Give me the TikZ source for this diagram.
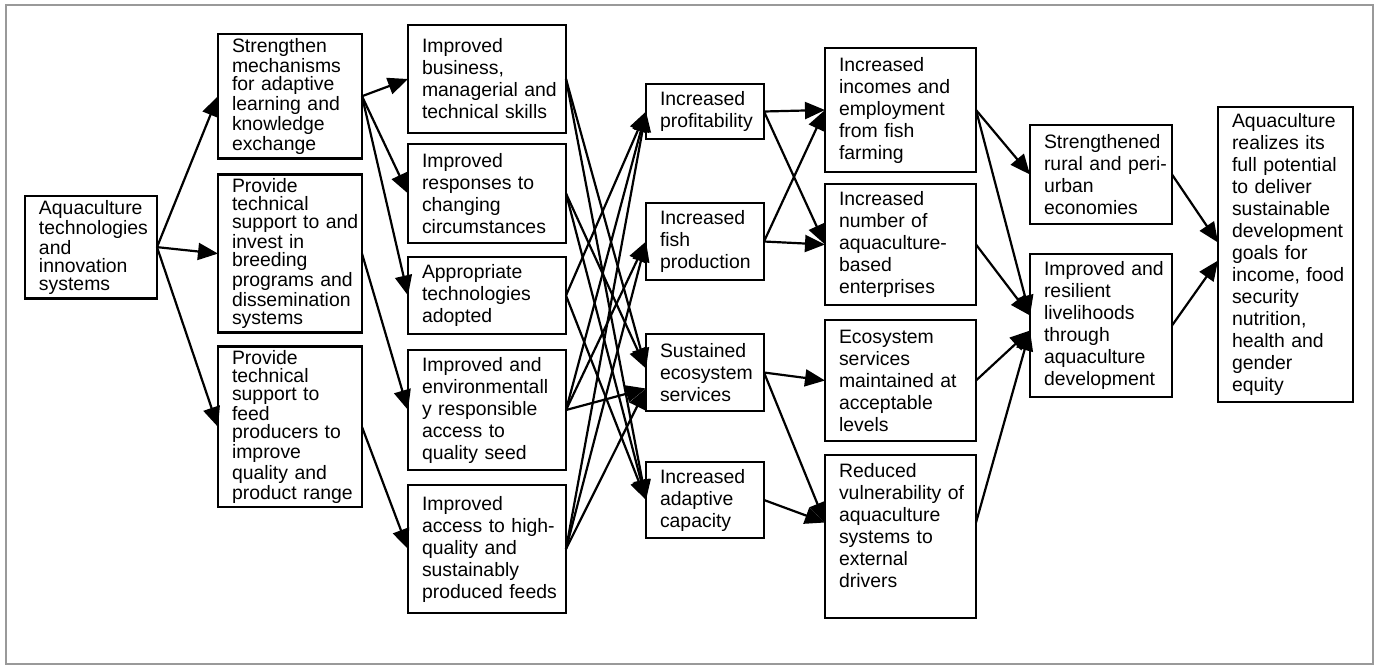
\documentclass[tikz,border=0pt]{standalone}
\usepackage{fontspec}
\setmainfont{Liberation Sans}
\usetikzlibrary{arrows.meta,positioning}
\hyphenpenalty=10000
\exhyphenpenalty=10000

\begin{document}
\begin{tikzpicture}[x=0.5pt,y=-0.5pt,
        box/.style={draw,rectangle,line width=1.3pt,outer sep=0pt,align=left,
            inner xsep=7pt,inner ysep=2pt,font=\fontsize{9.7}{11}\selectfont},
        tight/.style={font=\fontsize{9.7}{9}\selectfont},
        cola/.style={box,tight,text width=52pt},
        colb/.style={box,tight,text width=58pt},
        colc/.style={box,text width=65pt},
        cold/.style={box,text width=45pt},
        cole/.style={box,text width=61.5pt},
        colf/.style={box,text width=57pt},
        colg/.style={box,text width=53.5pt},
        conn/.style={line width=1.1pt,-{Triangle[length=10pt,width=8.5pt]}}]

        \useasboundingbox (0,0) rectangle (1379,670);
        \draw[gray!80,line width=0.8pt] (6,5) rectangle (1373,664);

        % first column
        \node[cola,minimum height=50.5pt,anchor=north west] (a) at (25,196) {Aquaculture\\technologies\\and\\innovation\\systems};

        % activities
        \node[colb,minimum height=59pt,anchor=north west] (b1) at (218,34) {Strengthen\\mechanisms\\for~adaptive\\learning~and\\knowledge\\exchange};
        \node[colb,minimum height=77pt,below=8pt of b1] (b2) {Provide\\technical\\support~to~and\\invest~in\\breeding\\programs~and\\dissemination\\systems};
        \node[colb,minimum height=77.5pt,below=7pt of b2] (b3) {Provide\\technical\\support~to\\feed\\producers~to\\improve\\quality~and\\product~range};

        % outputs
        \node[colc,minimum height=54pt,anchor=north west] (c1) at (408,25) {Improved\\business,\\managerial~and\\technical~skills};
        \node[colc,minimum height=49.5pt,below=5.5pt of c1] (c2) {Improved\\responses~to\\changing\\circumstances};
        \node[colc,minimum height=38.5pt,below=7pt of c2] (c3) {Appropriate\\technologies\\adopted};
        \node[colc,minimum height=60pt,below=8pt of c3] (c4) {Improved~and\\environmentall\\y~responsible\\access~to\\quality~seed};
        \node[colc,minimum height=64pt,below=7.5pt of c4] (c5) {Improved\\access~to~high-\\quality~and\\sustainably\\produced~feeds};

        % outcomes
        \node[cold,minimum height=27.5pt,anchor=north west] (d1) at (646,84) {Increased\\profitability};
        \node[cold,minimum height=38.5pt,below=32pt of d1] (d2) {Increased\\fish\\production};
        \node[cold,minimum height=38.5pt,below=27pt of d2] (d3) {Sustained\\ecosystem\\services};
        \node[cold,minimum height=38pt,below=25.5pt of d3] (d4) {Increased\\adaptive\\capacity};

        \node[cole,minimum height=62pt,anchor=north west] (e1) at (825,48) {Increased\\incomes~and\\employment\\from~fish\\farming};
        \node[cole,minimum height=60.5pt,below=6pt of e1] (e2) {Increased\\number~of\\aquaculture-\\based\\enterprises};
        \node[cole,minimum height=60.5pt,below=7.5pt of e2] (e3) {Ecosystem\\services\\maintained~at\\acceptable\\levels};
        \node[cole,minimum height=81.5pt,below=7pt of e3] (e4) {Reduced\\vulnerability~of\\aquaculture\\systems~to\\external\\drivers\\\mbox{}};

        % impacts
        \node[colf,minimum height=49.5pt,anchor=north west] (f1) at (1030,125) {Strengthened\\rural~and~peri-\\urban\\economies};
        \node[colf,minimum height=71.5pt,below=15pt of f1] (f2) {Improved~and\\resilient\\livelihoods\\through\\aquaculture\\development};

        \node[colg,minimum height=147.5pt,anchor=north west] (g) at (1218,107) {Aquaculture\\realizes~its\\full~potential\\to~deliver\\sustainable\\development\\goals~for\\income,~food\\security\\nutrition,\\health~and\\gender\\equity};

        % connectors
        \draw[conn] (a.east) -- (b1.west);
        \draw[conn] (a.east) -- (b2.west);
        \draw[conn] (a.east) -- (b3.west);

        \draw[conn] (b1.east) -- (c1.west);
        \draw[conn] (b1.east) -- (c2.west);
        \draw[conn] (b1.east) -- (c3.west);
        \draw[conn] (b2.east) -- (c4.west);
        \draw[conn] (b3.east) -- (c5.west);

        \draw[conn] (c1.east) -- ([yshift=2pt]d3.west);
        \draw[conn] (c1.east) -- (d4.west);
        \draw[conn] (c2.east) -- ([yshift=2pt]d3.west);
        \draw[conn] (c2.east) -- (d4.west);
        \draw[conn] (c3.east) -- (d1.west);
        \draw[conn] (c3.east) -- (d4.west);
        \draw[conn] (c4.east) -- (d1.west);
        \draw[conn] (c4.east) -- (d2.west);
        \draw[conn] (c4.east) -- ([yshift=-8pt]d3.west);
        \draw[conn] (c5.east) -- (d1.west);
        \draw[conn] (c5.east) -- (d2.west);
        \draw[conn] (c5.east) -- ([yshift=-8pt]d3.west);

        \draw[conn] (d1.east) -- (e1.west);
        \draw[conn] (d1.east) -- (e2.west);
        \draw[conn] (d2.east) -- (e1.west);
        \draw[conn] (d2.east) -- (e2.west);
        \draw[conn] (d3.east) -- (e3.west);
        \draw[conn] (d3.east) -- ([yshift=7pt]e4.west);
        \draw[conn] (d4.east) -- ([yshift=7pt]e4.west);

        \draw[conn] (e1.east) -- (f1.west);
        \draw[conn] (e1.east) -- ([yshift=5pt]f2.west);
        \draw[conn] (e2.east) -- ([yshift=5pt]f2.west);
        \draw[conn] (e3.east) -- ([yshift=-2.5pt]f2.west);
        \draw[conn] ([yshift=7pt]e4.east) -- ([yshift=-2.5pt]f2.west);

        \draw[conn] (f1.east) -- ([yshift=6pt]g.west);
        \draw[conn] (f2.east) -- ([yshift=-3pt]g.west);
\end{tikzpicture}
\end{document}
